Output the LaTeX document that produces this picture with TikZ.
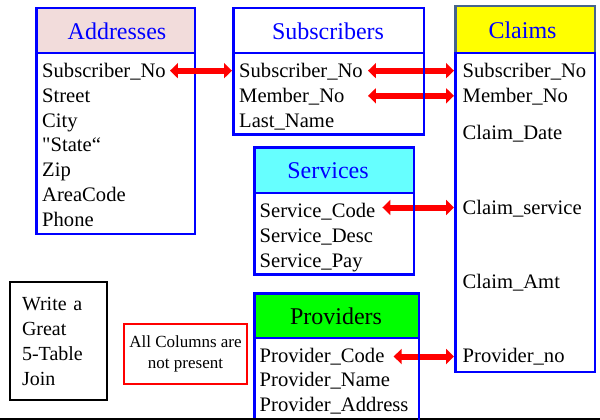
\documentclass[tikz,border=0pt]{standalone}
\usepackage{fontspec}
\setmainfont{Liberation Serif}[Ligatures=TeXOff]
\usetikzlibrary{arrows.meta}
\definecolor{tblue}{HTML}{0000FF}
\definecolor{pinkh}{HTML}{F2DCDB}
\definecolor{yellowh}{HTML}{FFFF00}
\definecolor{cyanh}{HTML}{66FFFF}
\definecolor{greenh}{HTML}{00FF00}
\definecolor{slateb}{HTML}{46648C}
\definecolor{redc}{HTML}{FF0000}
\tikzset{
  hdr/.style={draw=tblue, line width=2.5pt, anchor=north west, inner sep=0pt},
  body/.style={draw=tblue, line width=2.5pt, anchor=north west, inner sep=0pt},
  ttl/.style={anchor=base, inner sep=0pt, text=tblue, font=\fontsize{24}{28}\selectfont},
  attr/.style={anchor=base west, inner sep=0pt, font=\fontsize{20.6}{24.8}\selectfont},
  dbl/.style={draw=redc, line width=6pt, {Triangle[length=8pt,width=15pt]}-{Triangle[length=8pt,width=15pt]}},
}
\begin{document}
\begin{tikzpicture}[x=1pt,y=-1pt]
\clip (0,0) rectangle (600,420);
\fill[white] (0,0) rectangle (600,420);
% ---------- headers ----------
\node[hdr, fill=pinkh, minimum width=158.5pt, minimum height=44.75pt] (addrH) at (35,7) {};
\node[hdr, fill=white, minimum width=190.5pt, minimum height=44.75pt] (subsH) at (232,7) {};
\node[hdr, draw=slateb, fill=yellowh, minimum width=139.5pt, minimum height=46.75pt] (claimH) at (454,5) {};
\node[hdr, fill=cyanh, minimum width=159.5pt, minimum height=45.75pt] (servH) at (253,146) {};
\node[hdr, fill=greenh, minimum width=164.5pt, minimum height=44.75pt] (provH) at (253,292) {};
% ---------- bodies ----------
\node[body, minimum width=158.5pt, minimum height=180.75pt] (addrB) at (35,51.75) {};
\node[body, minimum width=190.5pt, minimum height=81.25pt] (subsB) at (232,51.75) {};
\node[body, minimum width=139.5pt, minimum height=318.75pt] (claimB) at (454,51.75) {};
\node[body, minimum width=159.5pt, minimum height=81.25pt] (servB) at (253,191.75) {};
\node[body, minimum width=164.5pt, minimum height=90pt] (provB) at (253,336.75) {};
% ---------- titles ----------
\node[ttl] (addrT) at (117,39.3) {Addresses};
\node[ttl] (subsT) at (328,39.3) {Subscribers};
\node[ttl] (claimT) at (522.5,38.5) {Claims};
\node[ttl] (servT) at (328,178.3) {Services};
\node[ttl, text=black] (provT) at (336,324) {Providers};
% ---------- attributes ----------
\node[attr] (a1) at (42,77.5) {Subscriber\_No};
\node[attr] (a2) at (42,102.3) {Street};
\node[attr] (a3) at (42,127.1) {City};
\node[attr] (a4) at (42,151.9) {"State“};
\node[attr] (a5) at (42,176.7) {Zip};
\node[attr] (a6) at (42,201.5) {AreaCode};
\node[attr] (a7) at (42,226.3) {Phone};
\node[attr] (s1) at (239,77.5) {Subscriber\_No};
\node[attr] (s2) at (239,102.3) {Member\_No};
\node[attr] (s3) at (239,127.1) {Last\_Name};
\node[attr] (c1) at (462.5,77.5) {Subscriber\_No};
\node[attr] (c2) at (462.5,102.3) {Member\_No};
\node[attr] (c3) at (462.5,139.5) {Claim\_Date};
\node[attr] (c4) at (462.5,214.3) {Claim\_service};
\node[attr] (c5) at (462.5,288.5) {Claim\_Amt};
\node[attr] (c6) at (462.5,362) {Provider\_no};
\node[attr] (v1) at (259.5,217) {Service\_Code};
\node[attr] (v2) at (259.5,242) {Service\_Desc};
\node[attr] (v3) at (259.5,267) {Service\_Pay};
\node[attr] (p1) at (259.5,362) {Provider\_Code};
\node[attr] (p2) at (259.5,386.5) {Provider\_Name};
\node[attr] (p3) at (259.5,411) {Provider\_Address};
% ---------- side boxes ----------
\node[draw=black, line width=2pt, anchor=north west, minimum width=97pt, minimum height=118pt,
      inner sep=0pt, text width=85pt, align=left,
      font=\fontsize{20}{25}\selectfont] (write) at (9,281)
      {\hspace*{6pt}Write a\\\hspace*{6pt}Great\\\hspace*{6pt}5-Table\\\hspace*{6pt}Join};
\node[draw=redc, line width=2pt, anchor=north west, minimum width=123pt, minimum height=60pt,
      inner sep=0pt, align=center, font=\fontsize{17}{20.5}\selectfont] (note) at (123,323)
      {All Columns are\\not present};
% ---------- bottom rule ----------
\coordinate (ruleL) at (0,418.5);
\coordinate (ruleR) at (600,418.5);
\draw[black, line width=2pt] (ruleL) -- (ruleR);
% ---------- arrows ----------
\coordinate (k1) at ([xshift=4pt,yshift=6.8pt]a1.base east);
\coordinate (k2) at ([xshift=5pt,yshift=6.8pt]s1.base east);
\coordinate (k3) at ([yshift=6.5pt]s2.base -| k2);
\coordinate (k4) at ([xshift=7pt,yshift=9.5pt]v1.base east);
\coordinate (k5) at ([xshift=9pt,yshift=5.5pt]p1.base east);
\draw[dbl] (k1) -- (k1 -| subsB.west);
\draw[dbl] (k2) -- (k2 -| claimB.west);
\draw[dbl] (k3) -- (k3 -| claimB.west);
\draw[dbl] (k4) -- (k4 -| claimB.west);
\draw[dbl] (k5) -- (k5 -| claimB.west);
% redraw borders crossed by arrows
\draw[tblue, line width=2.5pt] (subsB.north east) ++(-1.25pt,-1.25pt) coordinate (sbne) -- (sbne |- subsB.south);
\draw[tblue, line width=2.5pt] (servB.north east) ++(-1.25pt,-1.25pt) coordinate (svne) -- (svne |- servB.south);
\draw[tblue, line width=2.5pt] (provB.north east) ++(-1.25pt,-1.25pt) coordinate (pvne) -- (pvne |- provB.south);
\end{tikzpicture}
\end{document}
